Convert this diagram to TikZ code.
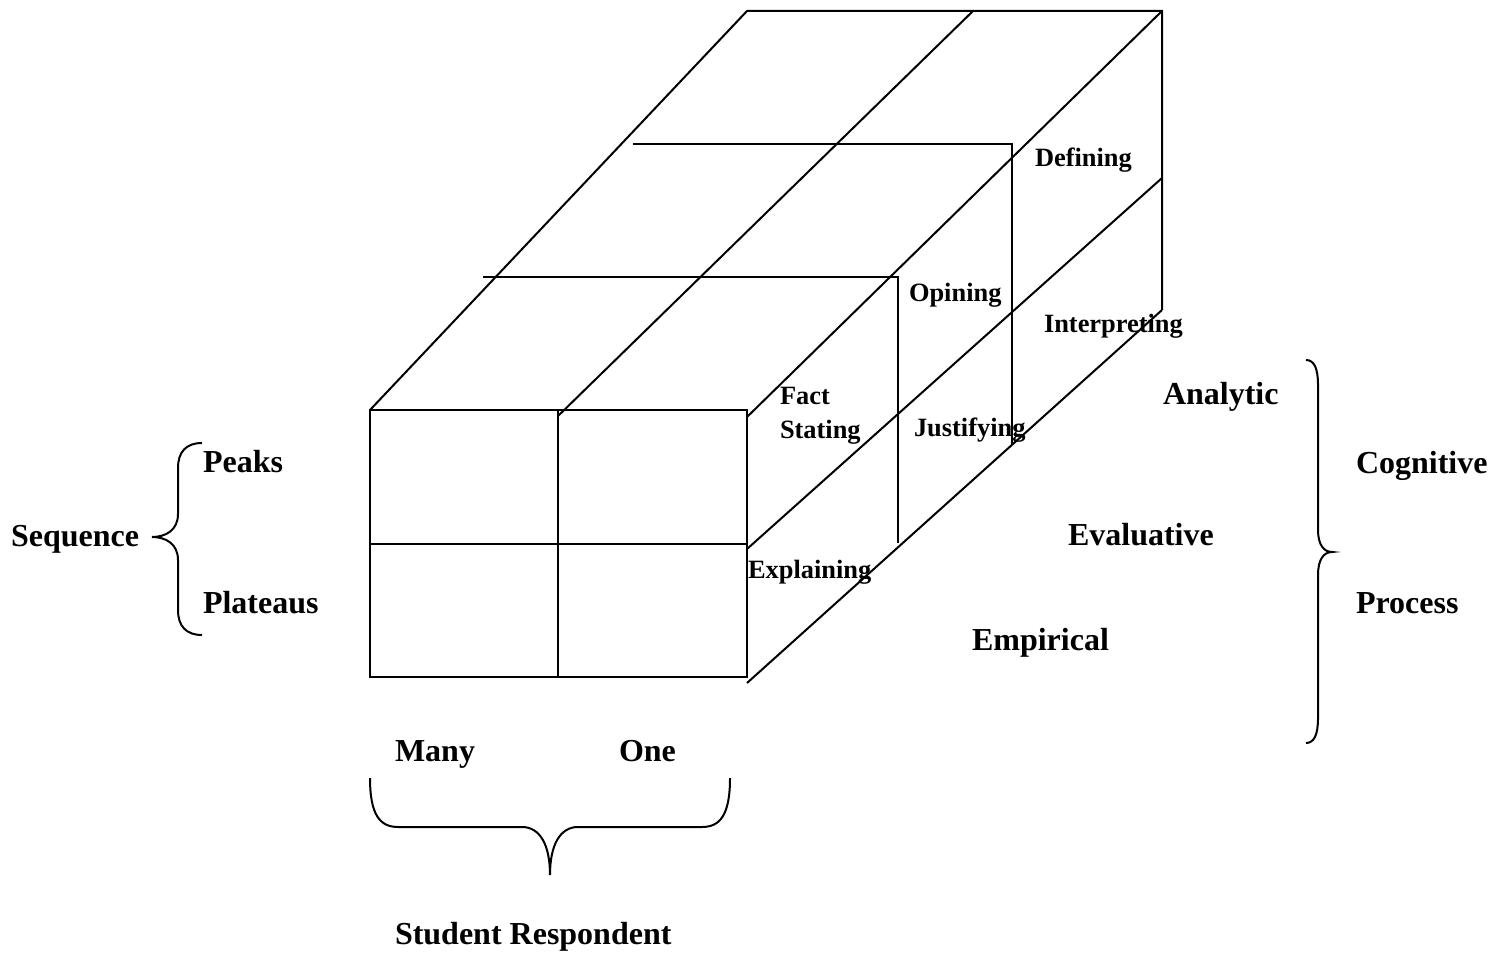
\documentclass[tikz,border=0pt]{standalone}
\usepackage{fontspec}
\setmainfont{Liberation Serif}
\begin{document}
\begin{tikzpicture}[x=0.5pt,y=-0.5pt,line width=1pt,line join=miter,
  big/.style={font=\fontsize{16}{19}\selectfont\bfseries,inner sep=0pt,anchor=base west},
  small/.style={font=\fontsize{13.2}{15}\selectfont\bfseries,inner sep=0pt,anchor=base west}]
\useasboundingbox (0,0) rectangle (1507,956);
% front face corners
\coordinate (FTL) at (370,410);
\coordinate (FTM) at (558,410);
\coordinate (FTR) at (747,410);
\coordinate (FML) at (370,544);
\coordinate (FMR) at (747,544);
\coordinate (FBL) at (370,677);
\coordinate (FBM) at (558,677);
\coordinate (FBR) at (747,677);
% back corners
\coordinate (BTL) at (747,11);
\coordinate (BTM) at (973,11);
\coordinate (BTR) at (1162,11);
\coordinate (BMR) at (1162,178);
\coordinate (BBR) at (1162,310);
% front face
\draw (FTL) rectangle (FBR);
\draw (FTM) -- (FBM);
\draw (FML) -- (FMR);
% depth edges
\draw (FTL) -- (BTL) -- (BTR) -- (BBR);
\draw (558,416) -- (BTM);
\draw (747,417) -- (BTR);
\draw (747,549) -- (BMR);
\draw (747,683) -- (BBR);
% inner slices
\draw (483,277) -- (898,277) -- (898,543);
\draw (633,144) -- (1012,144) -- (1012,445);
% labels on the cube
\node[small] (defining) at (1034,167) {Defining};
\node[small] (opining) at (908,302) {Opining};
\node[small] (interpreting) at (1043,333) {Interpreting};
\node[small] (fact) at (779,405) {Fact};
\node[small] (stating) at (779,438) {Stating};
\node[small] (justifying) at (913,437) {Justifying};
\node[small] (explaining) at (747,578) {Explaining};
% big labels
\node[big] (analytic) at (1162,405) {Analytic};
\node[big] (evaluative) at (1067,545) {Evaluative};
\node[big] (empirical) at (971,650) {Empirical};
\node[big] (cognitive) at (1355,473) {Cognitive};
\node[big] (process) at (1355,613) {Process};
\node[big] (sequence) at (10,546) {Sequence};
\node[big] (peaks) at (202,472) {Peaks};
\node[big] (plateaus) at (202,613) {Plateaus};
\node[big] (many) at (394,761) {Many};
\node[big] (one) at (618,761) {One};
\node[big] (student) at (394,944) {Student Respondent};
% left brace
\draw (202,443) .. controls (186,443) and (178,452) .. (178,468) -- (178,514)
  .. controls (178,530) and (166,537) .. (152,537)
  .. controls (166,537) and (178,544) .. (178,560) -- (178,610)
  .. controls (178,626) and (186,635) .. (202,635);
% right brace
\draw (1306,360) .. controls (1314,360) and (1318,368) .. (1318,385) -- (1318,530)
  .. controls (1318,545) and (1324,552) .. (1332,552)
  .. controls (1324,552) and (1318,559) .. (1318,575) -- (1318,718)
  .. controls (1318,735) and (1314,743) .. (1306,743);
% bottom brace
\draw (370,778) .. controls (370,815) and (380,827) .. (398,827) -- (522,827)
  .. controls (540,827) and (550,845) .. (550,875)
  .. controls (550,845) and (560,827) .. (578,827) -- (702,827)
  .. controls (720,827) and (730,815) .. (730,778);
\end{tikzpicture}
\end{document}
